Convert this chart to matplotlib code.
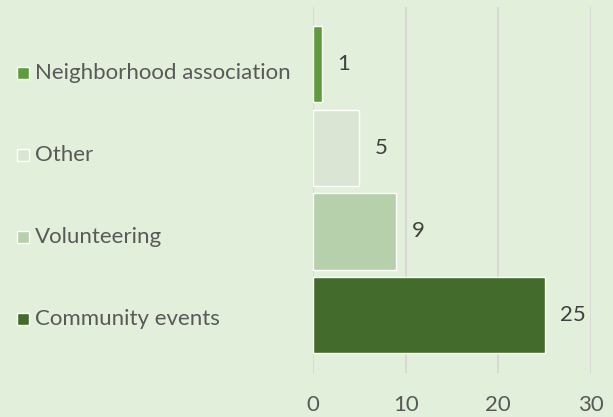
import matplotlib
matplotlib.use('Agg')
import matplotlib.pyplot as plt
from matplotlib.patches import Rectangle

# data
categories = ['Neighborhood association', 'Other', 'Volunteering', 'Community events']
values = [1, 5, 9, 25]
colors = ['#5F9A3D', '#DAE5D3', '#B6D0AC', '#436B2B']
x_ticks = [0, 10, 20, 30]

bg = '#E2EFDA'
fs = 16
plt.rcParams['font.family'] = ['Lato', 'DejaVu Sans']

fig = plt.figure(figsize=(6.13, 4.17), dpi=100, facecolor=bg)
ax = fig.add_axes([313 / 613, 1 - 373 / 417, 278 / 613, 366 / 417])
ax.set_facecolor(bg)

ypos = list(range(len(categories)))
bars = ax.barh(ypos, values, height=0.91, color=colors, edgecolor='white', linewidth=1.0, zorder=3)

for y, v in zip(ypos, values):
    ax.annotate(str(v), xy=(v, y), xytext=(11, 0), textcoords='offset points',
                ha='left', va='center', fontsize=fs, color='#404040')

ax.set_xlim(0, 30)
ax.set_ylim(len(categories) - 1 + 0.69, -0.68)
ax.set_xticks(x_ticks)
ax.set_xticklabels([str(t) for t in x_ticks], fontsize=fs, color='#595959')
ax.set_yticks([])
ax.tick_params(axis='x', length=0, pad=16)
ax.grid(axis='x', color='#D9D9D9', linewidth=1.5, zorder=0)
for s in ax.spines.values():
    s.set_visible(False)

# legend drawn by hand on the left
W, H = 613, 417
for i, (lab, c) in enumerate(zip(categories, colors)):
    yc = 73 + 82 * i
    fig.patches.append(Rectangle((17 / W, 1 - (yc + 6) / H), 12 / W, 12 / H,
                                 transform=fig.transFigure, facecolor=c,
                                 edgecolor='white', linewidth=1.0))
    fig.text(35 / W, 1 - yc / H, lab, ha='left', va='center',
             fontsize=fs, color='#595959')

fig.savefig('out.png', dpi=100, facecolor=bg)
